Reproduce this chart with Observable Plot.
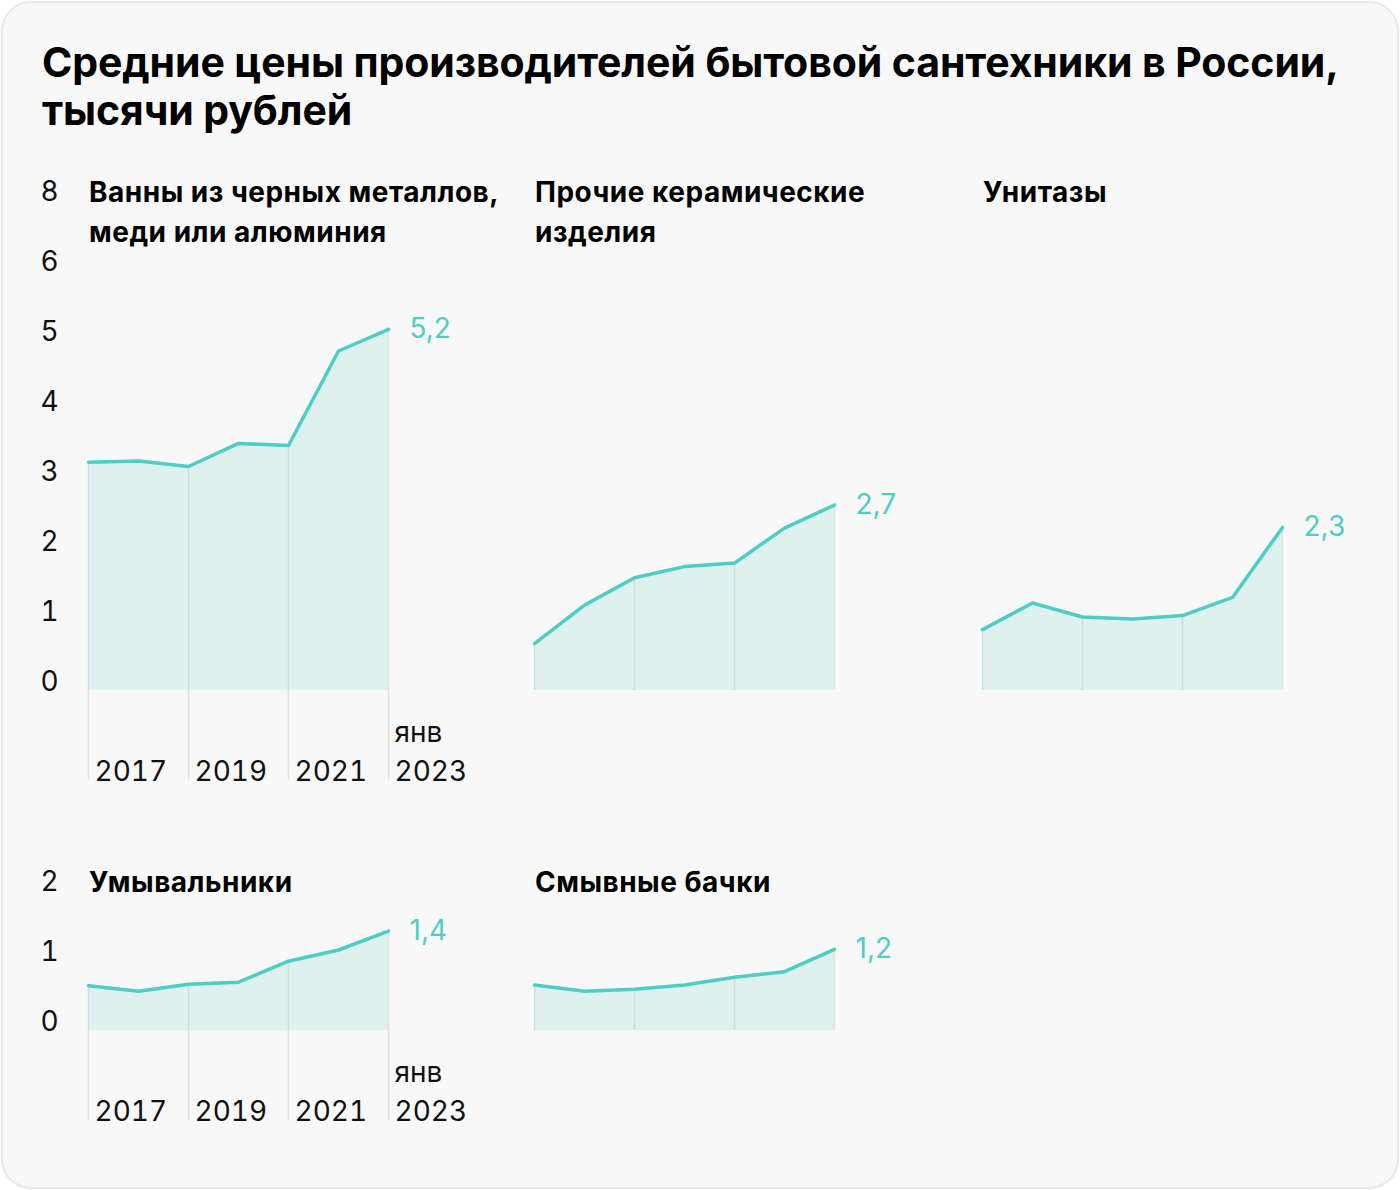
<!DOCTYPE html>
<html>
<head>
<meta charset="utf-8">
<script src="https://cdn.jsdelivr.net/npm/d3@7"></script>
<script src="https://cdn.jsdelivr.net/npm/@observablehq/plot@0.6"></script>
<style>
  html, body { margin: 0; padding: 0; background: #ffffff; }
  #root { position: relative; width: 1400px; height: 1190px; font-family: Inter, "Noto Sans", sans-serif; }
  #card { position: absolute; left: 1px; top: 1px; width: 1394px; height: 1184px; background: #f8f8f8; border: 2px solid #e9e9e9; border-radius: 30px; }
  #title { position: absolute; left: 42px; top: 38px; font-size: 41px; font-weight: 700; line-height: 48px; color: #000; letter-spacing: -0.1px; white-space: nowrap; }
  .sub { position: absolute; font-size: 28px; font-weight: 700; line-height: 40px; color: #000; white-space: nowrap; letter-spacing: 0.5px; }
  .panel { position: absolute; }
  .panel svg { overflow: visible; }
</style>
</head>
<body>
<div id="root">
  <div id="card"></div>
  <div id="title">Средние цены производителей бытовой сантехники в России,<br>тысячи рублей</div>
</div>
<script>
// ---- data ----
const years = [2017, 2018, 2019, 2020, 2021, 2022, 2023];
const bathtubs   = [3.26, 3.28, 3.20, 3.53, 3.50, 4.85, 5.16];
const ceramics   = [0.67, 1.22, 1.61, 1.77, 1.82, 2.32, 2.65];
const toilets    = [0.87, 1.25, 1.05, 1.02, 1.07, 1.33, 2.33];
const washbasins = [0.64, 0.56, 0.66, 0.69, 0.99, 1.15, 1.42];
const cisterns   = [0.65, 0.56, 0.59, 0.65, 0.76, 0.84, 1.16];
const panelTitles = [
  "Ванны из черных металлов,<br>меди или алюминия",
  "Прочие керамические<br>изделия",
  "Унитазы",
  "Умывальники",
  "Смывные бачки"
];
const lastLabels = ["5,2", "2,7", "2,3", "1,4", "1,2"];
const gridYears = [2017, 2019, 2021, 2023];
const xTickLabels = ["2017", "2019", "2021", "янв\n2023"];
const topYTicks = [0, 1, 2, 3, 4, 5, 6, 7];
const topYTickLabels = ["0", "1", "2", "3", "4", "5", "6", "8"];
const bottomYTicks = [0, 1, 2];
const bottomYTickLabels = ["0", "1", "2"];

const TEAL = "#4ecdc4";
const FILL = "#dff1ef";
const FONT = "Inter, 'Noto Sans', sans-serif";

function makePanel(values, label, cfg) {
  const rows = years.map((year, i) => ({year, value: values[i]}));
  const last = rows[rows.length - 1];
  const marks = [
    Plot.areaY(rows, {x: "year", y: "value", fill: FILL}),
    Plot.ruleX(rows.filter(d => gridYears.includes(d.year)), {x: "year", y1: 0, y2: "value", stroke: "#000", strokeOpacity: 0.08, strokeWidth: 1.5}),
    Plot.lineY(rows, {x: "year", y: "value", stroke: TEAL, strokeWidth: 3.5, strokeLinejoin: "round"}),
    Plot.text([last], {x: "year", y: "value", text: () => label, dx: 21, textAnchor: "start", lineAnchor: "middle", fill: TEAL, fontSize: 28, fontFamily: FONT})
  ];
  if (cfg.showY) {
    marks.push(Plot.axisY({
      ticks: cfg.yTicks,
      tickFormat: d => cfg.yLabels[cfg.yTicks.indexOf(d)],
      tickSize: 0, tickPadding: 0, textAnchor: "start", dx: -48, lineAnchor: "bottom",
      fontSize: 28, fill: "#111", fontFamily: FONT, label: null
    }));
  }
  if (cfg.showX) {
    // tick lines below the baseline
    marks.push(Plot.axisX({
      ticks: gridYears,
      tickFormat: () => "",
      tickSize: 90, tickPadding: 0,
      stroke: "#e3e3e3", strokeWidth: 1.5, label: null
    }));
    // tick labels to the right of each tick line
    marks.push(Plot.axisX({
      ticks: gridYears,
      tickFormat: d => xTickLabels[gridYears.indexOf(d)],
      tickSize: 0, tickPadding: 90, textAnchor: "start", dx: 6, lineAnchor: "bottom", lineHeight: 1.36,
      fontSize: 28, fill: "#111", fontFamily: FONT, label: null
    }));
  }
  return Plot.plot({
    width: 470,
    height: cfg.height,
    marginLeft: 88,
    marginRight: 82,
    marginTop: 40,
    marginBottom: 110,
    x: {domain: [2017, 2023], axis: cfg.showX ? undefined : null, label: null},
    y: {domain: cfg.yDomain, axis: cfg.showY ? undefined : null, label: null},
    style: {background: "transparent", fontFamily: FONT, overflow: "visible"},
    marks
  });
}

const root = document.getElementById("root");
const layout = [
  {values: bathtubs,   left: 0,   top: 160, height: 640, yDomain: [0, 7], yTicks: topYTicks, yLabels: topYTickLabels, showX: true, showY: true, subLeft: 89, subTop: 172},
  {values: ceramics,   left: 446, top: 160, height: 640, yDomain: [0, 7], showX: false, showY: false, subLeft: 535, subTop: 172},
  {values: toilets,    left: 894, top: 160, height: 640, yDomain: [0, 7], showX: false, showY: false, subLeft: 983, subTop: 172},
  {values: washbasins, left: 0,   top: 850, height: 290, yDomain: [0, 2], yTicks: bottomYTicks, yLabels: bottomYTickLabels, showX: true, showY: true, subLeft: 89, subTop: 862},
  {values: cisterns,   left: 446, top: 850, height: 290, yDomain: [0, 2], showX: false, showY: false, subLeft: 535, subTop: 862}
];
layout.forEach((cfg, i) => {
  const wrap = document.createElement("div");
  wrap.className = "panel";
  wrap.style.left = cfg.left + "px";
  wrap.style.top = cfg.top + "px";
  wrap.appendChild(makePanel(cfg.values, lastLabels[i], cfg));
  root.appendChild(wrap);
  const sub = document.createElement("div");
  sub.className = "sub";
  sub.style.left = cfg.subLeft + "px";
  sub.style.top = cfg.subTop + "px";
  sub.innerHTML = panelTitles[i];
  root.appendChild(sub);
});
</script>
</body>
</html>
